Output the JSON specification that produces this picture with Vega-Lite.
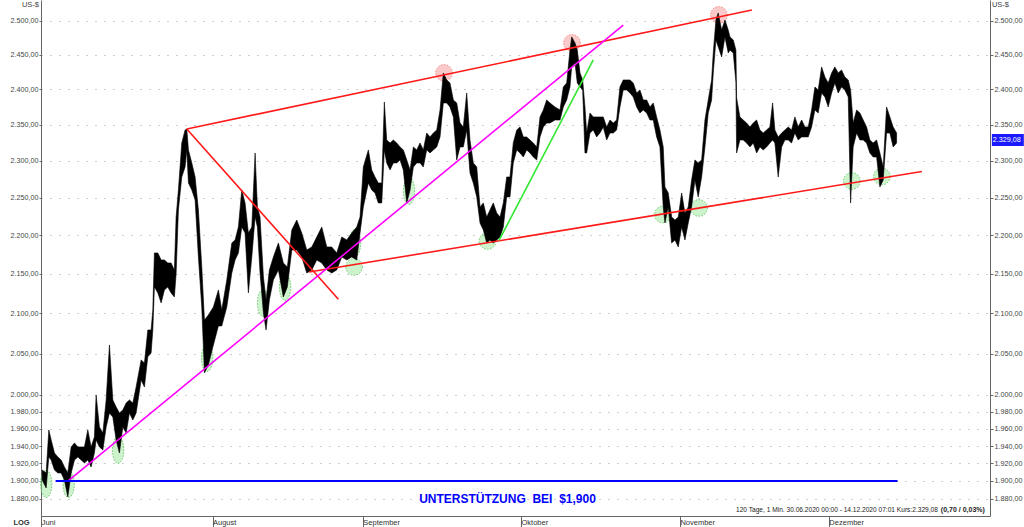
{
  "$schema": "https://vega.github.io/schema/vega-lite/v6.json",
  "width": 949,
  "height": 516,
  "autosize": "none",
  "padding": {"left": 41, "top": 0, "right": 34, "bottom": 11},
  "background": "white",
  "config": {"view": {"stroke": null}, "axis": {"labelFont": "Liberation Sans", "titleFont": "Liberation Sans"}, "text": {"font": "Liberation Sans"}},
  "datasets": {
    "price": [
      {"t":-0.14,"hi":1912.5,"lo":1901.1},{"t":0.42,"hi":1909.1,"lo":1892.1},{"t":0.79,"hi":1958.7,"lo":1927.4},{"t":1.12,"hi":1947.1,"lo":1923.9},
      {"t":1.58,"hi":1932.0,"lo":1912.5},{"t":2.05,"hi":1927.4,"lo":1909.1},{"t":2.51,"hi":1923.9,"lo":1909.1},{"t":2.97,"hi":1915.9,"lo":1901.1},
      {"t":3.44,"hi":1909.1,"lo":1882.0},{"t":3.91,"hi":1939.0,"lo":1909.1},{"t":4.37,"hi":1943.6,"lo":1923.9},{"t":4.84,"hi":1939.0,"lo":1927.4},
      {"t":5.30,"hi":1939.0,"lo":1923.9},{"t":5.76,"hi":1939.0,"lo":1920.5},{"t":6.23,"hi":1958.7,"lo":1923.9},{"t":6.69,"hi":1939.0,"lo":1915.9},
      {"t":7.15,"hi":1950.5,"lo":1932.0},{"t":7.39,"hi":2000.0,"lo":1947.1},{"t":7.85,"hi":1962.2,"lo":1939.0},{"t":8.33,"hi":1955.2,"lo":1935.5},
      {"t":8.79,"hi":1994.1,"lo":1962.2},{"t":9.25,"hi":2060.6,"lo":1978.6},{"t":9.72,"hi":1994.1,"lo":1973.9},{"t":10.18,"hi":1985.8,"lo":1947.1},
      {"t":10.64,"hi":1978.6,"lo":1932.0},{"t":11.12,"hi":1982.2,"lo":1962.2},{"t":11.58,"hi":1990.5,"lo":1955.2},{"t":12.04,"hi":1994.1,"lo":1978.6},
      {"t":12.51,"hi":1990.5,"lo":1970.4},{"t":12.97,"hi":2009.6,"lo":1978.6},{"t":13.67,"hi":2042.2,"lo":2018.0},{"t":14.13,"hi":2038.6,"lo":2009.6},
      {"t":14.60,"hi":2079.1,"lo":2046.1},{"t":15.06,"hi":2079.1,"lo":2050.8},{"t":15.30,"hi":2104.1,"lo":2079.1},{"t":15.52,"hi":2176.9,"lo":2133.2},
      {"t":16.00,"hi":2176.9,"lo":2125.6},{"t":16.46,"hi":2167.8,"lo":2112.9},{"t":16.92,"hi":2167.8,"lo":2129.4},{"t":17.39,"hi":2163.9,"lo":2133.2},
      {"t":17.85,"hi":2163.9,"lo":2125.6},{"t":18.31,"hi":2154.9,"lo":2120.5},{"t":18.55,"hi":2224.1,"lo":2150.0},{"t":18.87,"hi":2260.2,"lo":2233.4},
      {"t":19.34,"hi":2324.5,"lo":2277.8},{"t":19.80,"hi":2342.6,"lo":2291.5},{"t":20.04,"hi":2344.0,"lo":2314.9},{"t":20.27,"hi":2314.9,"lo":2269.7},
      {"t":20.74,"hi":2297.0,"lo":2260.2},{"t":21.20,"hi":2277.8,"lo":2246.8},{"t":21.66,"hi":2233.4,"lo":2171.7},{"t":22.13,"hi":2158.8,"lo":2107.8},
      {"t":22.50,"hi":2091.5,"lo":2026.5},{"t":23.05,"hi":2097.8,"lo":2036.2},{"t":23.75,"hi":2107.8,"lo":2060.6},{"t":24.45,"hi":2129.4,"lo":2084.1},
      {"t":24.92,"hi":2104.1,"lo":2084.1},{"t":25.62,"hi":2142.1,"lo":2107.8},{"t":26.32,"hi":2189.9,"lo":2151.0},{"t":26.78,"hi":2193.8,"lo":2167.8},
      {"t":27.24,"hi":2210.9,"lo":2176.9},{"t":27.71,"hi":2260.2,"lo":2210.9},{"t":28.17,"hi":2242.8,"lo":2203.0},{"t":28.63,"hi":2203.0,"lo":2125.6},
      {"t":29.11,"hi":2210.9,"lo":2171.7},{"t":29.57,"hi":2310.7,"lo":2224.1},{"t":29.89,"hi":2237.5,"lo":2210.9},{"t":30.26,"hi":2224.1,"lo":2151.0},
      {"t":30.73,"hi":2146.0,"lo":2100.3},{"t":31.10,"hi":2116.7,"lo":2079.1},{"t":31.56,"hi":2154.9,"lo":2116.7},{"t":32.12,"hi":2171.7,"lo":2142.1},
      {"t":32.82,"hi":2189.9,"lo":2154.9},{"t":33.51,"hi":2163.9,"lo":2120.5},{"t":34.07,"hi":2158.8,"lo":2133.2},{"t":34.69,"hi":2206.9,"lo":2180.8},
      {"t":35.38,"hi":2220.1,"lo":2180.8},{"t":36.08,"hi":2203.0,"lo":2171.7},{"t":36.78,"hi":2180.8,"lo":2151.0},{"t":37.48,"hi":2184.7,"lo":2154.9},
      {"t":38.17,"hi":2197.7,"lo":2167.8},{"t":38.87,"hi":2210.9,"lo":2163.9},{"t":39.57,"hi":2184.7,"lo":2154.9},{"t":40.26,"hi":2184.7,"lo":2151.0},
      {"t":40.96,"hi":2176.9,"lo":2154.9},{"t":41.66,"hi":2197.7,"lo":2171.7},{"t":42.36,"hi":2193.8,"lo":2167.8},{"t":43.05,"hi":2203.0,"lo":2171.7},
      {"t":43.75,"hi":2210.9,"lo":2167.8},{"t":44.21,"hi":2224.1,"lo":2203.0},{"t":44.67,"hi":2291.5,"lo":2237.5},{"t":45.37,"hi":2314.9,"lo":2269.7},
      {"t":45.84,"hi":2287.4,"lo":2260.2},{"t":46.30,"hi":2277.8,"lo":2256.2},{"t":46.76,"hi":2269.7,"lo":2242.8},{"t":47.24,"hi":2269.7,"lo":2242.8},
      {"t":47.60,"hi":2382.1,"lo":2314.9},{"t":47.93,"hi":2328.7,"lo":2297.0},{"t":48.40,"hi":2324.5,"lo":2287.4},{"t":48.86,"hi":2328.7,"lo":2297.0},
      {"t":49.33,"hi":2324.5,"lo":2297.0},{"t":49.79,"hi":2319.0,"lo":2301.1},{"t":50.25,"hi":2314.9,"lo":2287.4},{"t":50.73,"hi":2301.1,"lo":2242.8},
      {"t":51.19,"hi":2287.4,"lo":2260.2},{"t":51.65,"hi":2319.0,"lo":2291.5},{"t":52.12,"hi":2314.9,"lo":2297.0},{"t":52.58,"hi":2324.5,"lo":2297.0},
      {"t":53.04,"hi":2314.9,"lo":2291.5},{"t":53.51,"hi":2338.4,"lo":2314.9},{"t":53.97,"hi":2332.9,"lo":2310.7},{"t":54.44,"hi":2338.4,"lo":2314.9},
      {"t":54.91,"hi":2342.6,"lo":2319.0},{"t":55.37,"hi":2370.7,"lo":2332.9},{"t":55.83,"hi":2423.7,"lo":2380.7},{"t":56.30,"hi":2413.6,"lo":2380.7},
      {"t":56.76,"hi":2409.3,"lo":2375.0},{"t":57.23,"hi":2384.9,"lo":2360.9},{"t":57.70,"hi":2380.7,"lo":2301.1},{"t":58.16,"hi":2352.4,"lo":2319.0},
      {"t":58.62,"hi":2346.8,"lo":2319.0},{"t":59.09,"hi":2394.9,"lo":2342.6},{"t":59.55,"hi":2328.7,"lo":2283.3},{"t":60.01,"hi":2297.0,"lo":2269.7},
      {"t":60.49,"hi":2291.5,"lo":2250.9},{"t":60.95,"hi":2237.5,"lo":2216.2},{"t":61.41,"hi":2242.8,"lo":2206.9},{"t":61.88,"hi":2224.1,"lo":2189.9},
      {"t":62.34,"hi":2233.4,"lo":2193.8},{"t":62.80,"hi":2242.8,"lo":2189.9},{"t":63.28,"hi":2229.4,"lo":2193.8},{"t":63.74,"hi":2224.1,"lo":2197.7},
      {"t":64.20,"hi":2242.8,"lo":2210.9},{"t":64.67,"hi":2277.8,"lo":2250.9},{"t":65.13,"hi":2277.8,"lo":2250.9},{"t":65.59,"hi":2324.5,"lo":2297.0},
      {"t":66.07,"hi":2342.6,"lo":2314.9},{"t":66.53,"hi":2346.8,"lo":2310.7},{"t":66.99,"hi":2332.9,"lo":2305.2},{"t":67.46,"hi":2332.9,"lo":2314.9},
      {"t":67.92,"hi":2328.7,"lo":2310.7},{"t":68.38,"hi":2324.5,"lo":2305.2},{"t":68.86,"hi":2319.0,"lo":2301.1},{"t":69.32,"hi":2360.9,"lo":2332.9},
      {"t":69.78,"hi":2370.7,"lo":2346.8},{"t":70.25,"hi":2384.9,"lo":2352.4},{"t":70.71,"hi":2380.7,"lo":2352.4},{"t":71.41,"hi":2375.0,"lo":2356.6},
      {"t":72.11,"hi":2370.7,"lo":2356.6},{"t":72.57,"hi":2403.5,"lo":2375.0},{"t":73.04,"hi":2409.3,"lo":2384.9},{"t":73.50,"hi":2457.2,"lo":2403.5},
      {"t":73.74,"hi":2476.3,"lo":2432.9},{"t":74.20,"hi":2467.5,"lo":2438.2},{"t":74.52,"hi":2457.2,"lo":2409.3},{"t":74.90,"hi":2423.7,"lo":2403.5},
      {"t":75.27,"hi":2413.6,"lo":2399.2},{"t":75.59,"hi":2375.0,"lo":2310.7},{"t":75.83,"hi":2338.4,"lo":2310.7},{"t":76.29,"hi":2366.5,"lo":2338.4},
      {"t":76.75,"hi":2360.9,"lo":2342.6},{"t":77.22,"hi":2360.9,"lo":2332.9},{"t":77.68,"hi":2360.9,"lo":2338.4},{"t":78.14,"hi":2360.9,"lo":2346.8},
      {"t":78.62,"hi":2346.8,"lo":2328.7},{"t":79.08,"hi":2356.6,"lo":2338.4},{"t":79.54,"hi":2352.4,"lo":2338.4},{"t":80.01,"hi":2356.6,"lo":2342.6},
      {"t":80.47,"hi":2403.5,"lo":2375.0},{"t":80.93,"hi":2413.6,"lo":2399.2},{"t":81.41,"hi":2413.6,"lo":2399.2},{"t":81.87,"hi":2413.6,"lo":2394.9},
      {"t":82.33,"hi":2409.3,"lo":2389.2},{"t":82.80,"hi":2394.9,"lo":2375.0},{"t":83.26,"hi":2399.2,"lo":2366.5},{"t":83.72,"hi":2384.9,"lo":2370.7},
      {"t":84.20,"hi":2384.9,"lo":2366.5},{"t":84.66,"hi":2375.0,"lo":2356.6},{"t":85.12,"hi":2380.7,"lo":2356.6},{"t":85.59,"hi":2360.9,"lo":2332.9},
      {"t":86.05,"hi":2342.6,"lo":2319.0},{"t":86.51,"hi":2319.0,"lo":2237.5},{"t":86.75,"hi":2264.3,"lo":2216.2},{"t":87.21,"hi":2256.2,"lo":2237.5},
      {"t":87.68,"hi":2224.1,"lo":2189.9},{"t":88.15,"hi":2220.1,"lo":2193.8},{"t":88.61,"hi":2224.1,"lo":2184.7},{"t":89.08,"hi":2256.2,"lo":2210.9},
      {"t":89.54,"hi":2229.4,"lo":2193.8},{"t":90.00,"hi":2237.5,"lo":2216.2},{"t":90.47,"hi":2273.7,"lo":2237.5},{"t":90.93,"hi":2301.1,"lo":2273.7},
      {"t":91.39,"hi":2297.0,"lo":2250.9},{"t":91.87,"hi":2301.1,"lo":2277.8},{"t":92.33,"hi":2356.6,"lo":2319.0},{"t":92.79,"hi":2384.9,"lo":2366.5},
      {"t":93.26,"hi":2413.6,"lo":2384.9},{"t":93.49,"hi":2452.8,"lo":2423.7},{"t":93.86,"hi":2501.5,"lo":2471.9},{"t":94.18,"hi":2512.0,"lo":2461.9},
      {"t":94.66,"hi":2486.6,"lo":2447.0},{"t":95.12,"hi":2501.5,"lo":2476.3},{"t":95.58,"hi":2486.6,"lo":2452.8},{"t":95.82,"hi":2476.3,"lo":2457.2},
      {"t":96.28,"hi":2471.9,"lo":2452.8},{"t":96.65,"hi":2457.2,"lo":2410.7},{"t":96.75,"hi":2387.8,"lo":2310.7},{"t":97.21,"hi":2360.9,"lo":2328.7},
      {"t":97.67,"hi":2356.6,"lo":2328.7},{"t":98.14,"hi":2352.4,"lo":2324.5},{"t":98.61,"hi":2346.8,"lo":2319.0},{"t":99.07,"hi":2352.4,"lo":2324.5},
      {"t":99.54,"hi":2356.6,"lo":2310.7},{"t":100.00,"hi":2342.6,"lo":2319.0},{"t":100.46,"hi":2338.4,"lo":2314.9},{"t":100.93,"hi":2342.6,"lo":2319.0},
      {"t":101.39,"hi":2346.8,"lo":2324.5},{"t":101.77,"hi":2380.7,"lo":2328.7},{"t":102.09,"hi":2342.6,"lo":2324.5},{"t":102.55,"hi":2332.9,"lo":2277.8},
      {"t":103.03,"hi":2338.4,"lo":2319.0},{"t":103.49,"hi":2342.6,"lo":2328.7},{"t":103.95,"hi":2346.8,"lo":2328.7},{"t":104.42,"hi":2342.6,"lo":2324.5},
      {"t":104.88,"hi":2360.9,"lo":2338.4},{"t":105.34,"hi":2346.8,"lo":2328.7},{"t":105.82,"hi":2356.6,"lo":2332.9},{"t":106.28,"hi":2346.8,"lo":2332.9},
      {"t":106.74,"hi":2346.8,"lo":2332.9},{"t":107.21,"hi":2370.7,"lo":2346.8},{"t":107.67,"hi":2403.5,"lo":2370.7},{"t":108.13,"hi":2399.2,"lo":2366.5},
      {"t":108.61,"hi":2432.4,"lo":2394.9},{"t":109.07,"hi":2417.7,"lo":2389.2},{"t":109.53,"hi":2409.3,"lo":2375.0},{"t":110.00,"hi":2423.7,"lo":2394.9},
      {"t":110.46,"hi":2432.4,"lo":2409.3},{"t":110.92,"hi":2423.7,"lo":2394.9},{"t":111.39,"hi":2428.0,"lo":2403.5},{"t":111.85,"hi":2417.7,"lo":2399.2},
      {"t":112.32,"hi":2413.6,"lo":2389.2},{"t":112.65,"hi":2399.2,"lo":2242.8},{"t":113.01,"hi":2352.4,"lo":2319.0},{"t":113.49,"hi":2370.7,"lo":2338.4},
      {"t":113.95,"hi":2366.5,"lo":2328.7},{"t":114.41,"hi":2356.6,"lo":2328.7},{"t":114.88,"hi":2346.8,"lo":2324.5},{"t":115.34,"hi":2328.7,"lo":2310.7},
      {"t":115.80,"hi":2324.5,"lo":2305.2},{"t":116.28,"hi":2328.7,"lo":2305.2},{"t":116.74,"hi":2310.7,"lo":2264.3},{"t":117.20,"hi":2291.5,"lo":2273.7},
      {"t":117.67,"hi":2375.0,"lo":2338.4},{"t":118.13,"hi":2360.9,"lo":2338.4},{"t":118.59,"hi":2346.8,"lo":2319.0},{"t":119.07,"hi":2338.4,"lo":2324.5}
    ],
    "marks": [
      {"kind":"peak","t":55.93,"p":2423.7},{"kind":"peak","t":73.78,"p":2467.5},{"kind":"peak","t":94.28,"p":2509.0},
      {"kind":"tall","t":0.42,"p":1896.6},{"kind":"tall","t":3.56,"p":1896.6},{"kind":"tall","t":10.46,"p":1935.5},{"kind":"tall","t":22.87,"p":2044.7},
      {"kind":"tall","t":30.68,"p":2112.9},{"kind":"tall","t":33.75,"p":2133.2},{"kind":"tall","t":43.51,"p":2189.9},{"kind":"tall","t":51.05,"p":2258.9},
      {"kind":"round","t":43.38,"p":2158.8},{"kind":"round","t":62.0,"p":2192.5},{"kind":"round","t":86.47,"p":2227.4},{"kind":"round","t":91.49,"p":2236.1},
      {"kind":"round","t":112.83,"p":2272.4},{"kind":"round","t":117.02,"p":2278.5}
    ],
    "lines": [
      {"seg":"r1","t":20.04,"p":2344.0},{"seg":"r1","t":98.88,"p":2516.4},
      {"seg":"r2","t":20.04,"p":2344.0},{"seg":"r2","t":41.19,"p":2117.6},
      {"seg":"r3","t":37.1,"p":2152.3},{"seg":"r3","t":122.59,"p":2285.3},
      {"seg":"m","t":3.49,"p":1900.0},{"seg":"m","t":80.93,"p":2494.0},
      {"seg":"g","t":63.6,"p":2193.2},{"seg":"g","t":76.75,"p":2442.5}
    ],
    "support": [{"t":1.74,"p":1900},{"t":119.2,"p":1900}],
    "notes": [
      {"kind":"support","t":64.78,"p":1879.7,"label":"UNTERSTÜTZUNG\u00a0 BEI\u00a0 $1,900"},
      {"kind":"info","t":124.83,"p":1867.4,"label":"120 Tage, 1 Min. 30.06.2020 00:00 - 14.12.2020 07:01 Kurs:2.329,08"},
      {"kind":"infobold","t":131.38,"p":1867.4,"label":"(0,70 / 0,03%)"}
    ],
    "last": [{"t":132.36,"t2":136.82,"p":2337.0,"p2":2320.4,"tl":132.5,"pl":2329.08,"label":"2.329,08"}]
  },
  "layer": [
    {
      "data": {"name": "marks"},
      "transform": [{"filter": "datum.kind === 'peak'"}],
      "mark": {"type": "point", "shape": "circle", "size": 280, "filled": true, "fill": "#f27a7a", "fillOpacity": 0.4, "stroke": "#f08080", "strokeWidth": 1, "strokeDash": [1.5, 1.5], "strokeOpacity": 0.9},
      "encoding": {
        "x": {"field": "t", "type": "quantitative", "scale": {"domain": [-0.3, 132.1], "nice": false, "zero": false}},
        "y": {"field": "p", "type": "quantitative", "scale": {"type": "log", "domain": [1860.7, 2531.5], "nice": false, "zero": false}, "axis": null}
      }
    },
    {
      "data": {"name": "marks"},
      "transform": [{"filter": "datum.kind === 'round'"}],
      "mark": {"type": "point", "shape": "circle", "size": 280, "filled": true, "fill": "#8fe48f", "fillOpacity": 0.45, "stroke": "#66c466", "strokeWidth": 1, "strokeDash": [1.5, 1.5], "strokeOpacity": 0.9},
      "encoding": {
        "x": {"field": "t", "type": "quantitative", "scale": {"domain": [-0.3, 132.1], "nice": false, "zero": false}},
        "y": {"field": "p", "type": "quantitative", "scale": {"type": "log", "domain": [1860.7, 2531.5], "nice": false, "zero": false}, "axis": null}
      }
    },
    {
      "data": {"name": "marks"},
      "transform": [{"filter": "datum.kind === 'tall'"}],
      "mark": {"type": "point", "shape": "M0,-1A0.42,1 0 1,1 0,1A0.42,1 0 1,1 0,-1Z", "size": 729, "filled": true, "fill": "#8fe48f", "fillOpacity": 0.45, "stroke": "#66c466", "strokeWidth": 1, "strokeDash": [1.5, 1.5], "strokeOpacity": 0.9},
      "encoding": {
        "x": {"field": "t", "type": "quantitative", "scale": {"domain": [-0.3, 132.1], "nice": false, "zero": false}},
        "y": {"field": "p", "type": "quantitative", "scale": {"type": "log", "domain": [1860.7, 2531.5], "nice": false, "zero": false}, "axis": null}
      }
    },
    {
      "data": {"name": "price"},
      "mark": {"type": "area", "color": "#000000", "stroke": "#000000", "strokeWidth": 0.6, "interpolate": "linear"},
      "encoding": {
        "x": {"field": "t", "type": "quantitative", "scale": {"domain": [-0.3, 132.1], "nice": false, "zero": false},
          "axis": {"values": [-0.28, 23.63, 44.6, 66.67, 88.84, 109.62],
            "labelExpr": "datum.value < 10 ? 'Juni' : datum.value < 30 ? 'August' : datum.value < 50 ? 'September' : datum.value < 70 ? 'Oktober' : datum.value < 100 ? 'November' : 'Dezember'",
            "labelAlign": "left", "labelBaseline": "top", "labelPadding": -9, "labelDx": 2, "labelFlush": false, "labelOverlap": false,
            "tickSize": 11, "tickColor": "#666666", "domainColor": "#666666", "labelFontSize": 7.5, "labelColor": "#333333", "grid": false,
            "title": "LOG", "titleX": -20, "titleY": 6, "titleAlign": "center", "titleBaseline": "middle", "titleFontSize": 7.5, "titleFontWeight": "bold", "titleColor": "#333333"}},
        "y": {"field": "hi", "type": "quantitative", "scale": {"type": "log", "domain": [1860.7, 2531.5], "nice": false, "zero": false},
          "axis": {"orient": "left", "values": [1880, 1900, 1920, 1940, 1960, 1980, 2000, 2050, 2100, 2150, 2200, 2250, 2300, 2350, 2400, 2450, 2500],
            "labelExpr": "replace(replace(replace(format(datum.value, ',.2f'), ',', '#'), '.', ','), '#', '.')",
            "labelFontSize": 7.2, "labelColor": "#444444", "labelPadding": 1, "tickSize": 2, "tickColor": "#666666", "domainColor": "#666666",
            "grid": true, "gridColor": "#9a9a9a", "gridDash": [1, 8], "gridWidth": 1,
            "title": "US-$", "titleAngle": 0, "titleX": -11, "titleY": 4, "titleAlign": "center", "titleBaseline": "middle", "titleFontSize": 7.5, "titleFontWeight": "normal", "titleColor": "#444444"}},
        "y2": {"field": "lo"}
      }
    },
    {
      "data": {"name": "lines"},
      "mark": {"type": "line", "strokeWidth": 1.6},
      "encoding": {
        "x": {"field": "t", "type": "quantitative", "scale": {"domain": [-0.3, 132.1], "nice": false, "zero": false}},
        "y": {"field": "p", "type": "quantitative", "scale": {"type": "log", "domain": [1860.7, 2531.5], "nice": false, "zero": false}, "axis": null},
        "color": {"field": "seg", "type": "nominal", "scale": {"domain": ["r1", "r2", "r3", "m", "g"], "range": ["#ff1a1a", "#ff1a1a", "#ff1a1a", "#ff00ff", "#33e833"]}, "legend": null}
      }
    },
    {
      "data": {"name": "support"},
      "mark": {"type": "line", "strokeWidth": 2, "color": "#0000ff"},
      "encoding": {
        "x": {"field": "t", "type": "quantitative", "scale": {"domain": [-0.3, 132.1], "nice": false, "zero": false}},
        "y": {"field": "p", "type": "quantitative", "scale": {"type": "log", "domain": [1860.7, 2531.5], "nice": false, "zero": false},
          "axis": {"orient": "right", "values": [1880, 1900, 1920, 1940, 1960, 1980, 2000, 2050, 2100, 2150, 2200, 2250, 2300, 2350, 2400, 2450, 2500],
            "labelExpr": "replace(replace(replace(format(datum.value, ',.2f'), ',', '#'), '.', ','), '#', '.')",
            "labelFontSize": 7.2, "labelColor": "#444444", "labelPadding": 1, "tickSize": 3, "tickColor": "#666666", "domainColor": "#666666", "grid": false,
            "title": "US-$", "titleAngle": 0, "titleX": 10, "titleY": 4, "titleAlign": "center", "titleBaseline": "middle", "titleFontSize": 7.5, "titleFontWeight": "normal", "titleColor": "#444444"}}
      }
    },
    {
      "data": {"name": "notes"},
      "transform": [{"filter": "datum.kind === 'support'"}],
      "mark": {"type": "text", "font": "Liberation Sans Narrow, Arial Narrow, Liberation Sans", "fontWeight": "bold", "fontSize": 12, "color": "#0000ff", "align": "center", "baseline": "middle"},
      "encoding": {
        "x": {"field": "t", "type": "quantitative", "scale": {"domain": [-0.3, 132.1], "nice": false, "zero": false}},
        "y": {"field": "p", "type": "quantitative", "scale": {"type": "log", "domain": [1860.7, 2531.5], "nice": false, "zero": false}, "axis": null},
        "text": {"field": "label"}
      }
    },
    {
      "data": {"name": "notes"},
      "transform": [{"filter": "datum.kind === 'info'"}],
      "mark": {"type": "text", "fontSize": 6.6, "color": "#222222", "align": "right", "baseline": "middle"},
      "encoding": {
        "x": {"field": "t", "type": "quantitative", "scale": {"domain": [-0.3, 132.1], "nice": false, "zero": false}},
        "y": {"field": "p", "type": "quantitative", "scale": {"type": "log", "domain": [1860.7, 2531.5], "nice": false, "zero": false}, "axis": null},
        "text": {"field": "label"}
      }
    },
    {
      "data": {"name": "notes"},
      "transform": [{"filter": "datum.kind === 'infobold'"}],
      "mark": {"type": "text", "fontSize": 7, "fontWeight": "bold", "color": "#222222", "align": "right", "baseline": "middle"},
      "encoding": {
        "x": {"field": "t", "type": "quantitative", "scale": {"domain": [-0.3, 132.1], "nice": false, "zero": false}},
        "y": {"field": "p", "type": "quantitative", "scale": {"type": "log", "domain": [1860.7, 2531.5], "nice": false, "zero": false}, "axis": null},
        "text": {"field": "label"}
      }
    },
    {
      "data": {"name": "last"},
      "mark": {"type": "rect", "color": "#1a1aff"},
      "encoding": {
        "x": {"field": "t", "type": "quantitative", "scale": {"domain": [-0.3, 132.1], "nice": false, "zero": false}},
        "x2": {"field": "t2"},
        "y": {"field": "p", "type": "quantitative", "scale": {"type": "log", "domain": [1860.7, 2531.5], "nice": false, "zero": false}, "axis": null},
        "y2": {"field": "p2"}
      }
    },
    {
      "data": {"name": "last"},
      "mark": {"type": "text", "fontSize": 7.2, "color": "#ffffff", "align": "left", "baseline": "middle"},
      "encoding": {
        "x": {"field": "tl", "type": "quantitative", "scale": {"domain": [-0.3, 132.1], "nice": false, "zero": false}},
        "y": {"field": "pl", "type": "quantitative", "scale": {"type": "log", "domain": [1860.7, 2531.5], "nice": false, "zero": false}, "axis": null},
        "text": {"field": "label"}
      }
    }
  ],
  "resolve": {"axis": {"y": "independent"}}
}
